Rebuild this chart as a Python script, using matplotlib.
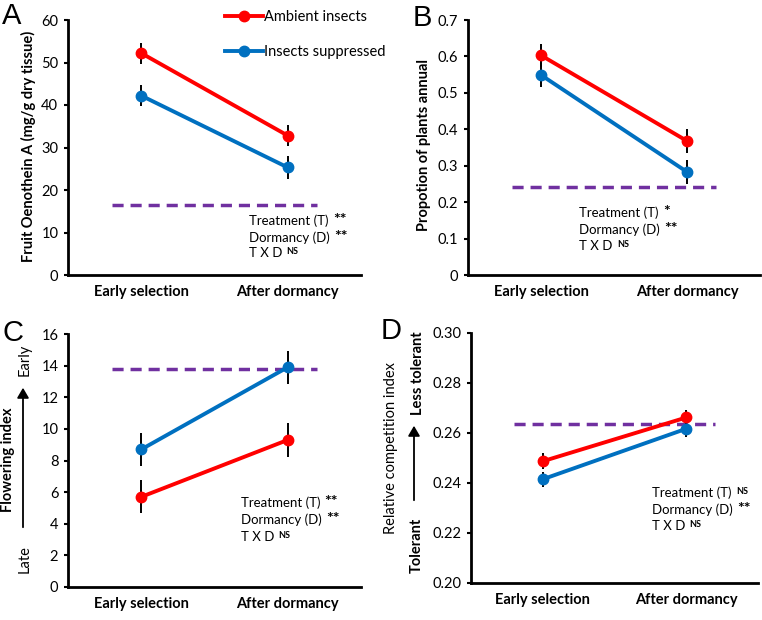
import matplotlib
matplotlib.use("Agg")
import matplotlib.pyplot as plt

plt.rcParams['font.family'] = ['Lato', 'DejaVu Sans']

# Data
stages = ["Early selection", "After dormancy"]
series_names = ["Ambient insects", "Insects suppressed"]

a_amb = [52.2, 32.8]
a_amb_err = [2.5, 2.5]
a_sup = [42.2, 25.3]
a_sup_err = [2.5, 2.6]
a_ref = 16.5

b_amb = [0.603, 0.368]
b_amb_err = [0.031, 0.032]
b_sup = [0.549, 0.283]
b_sup_err = [0.032, 0.032]
b_ref = 0.241

c_amb = [5.7, 9.3]
c_amb_err = [1.05, 1.05]
c_sup = [8.7, 13.9]
c_sup_err = [1.05, 1.05]
c_ref = 13.8

d_amb = [0.2487, 0.2662]
d_amb_err = [0.0033, 0.003]
d_sup = [0.2415, 0.2617]
d_sup_err = [0.003, 0.0035]
d_ref = 0.2636

a_stats = [("Treatment (T)", "**", ""), ("Dormancy (D)", "**", ""), ("T X D", "", "NS")]
b_stats = [("Treatment (T)", "*", ""), ("Dormancy (D)", "**", ""), ("T X D", "", "NS")]
c_stats = [("Treatment (T)", "**", ""), ("Dormancy (D)", "**", ""), ("T X D", "", "NS")]
d_stats = [("Treatment (T)", "", "NS"), ("Dormancy (D)", "**", ""), ("T X D", "", "NS")]

RED = "#FF0000"
BLUE = "#0070C0"
PURPLE = "#7030A0"

W, H = 762, 620
fig = plt.figure(figsize=(W / 100, H / 100), dpi=100)


def px_axes(left, top, right, bottom):
    return fig.add_axes([left / W, 1 - bottom / H, (right - left) / W, (bottom - top) / H])


def draw_panel(ax, amb, amb_err, sup, sup_err, ref, ylim, yticks, yfmt):
    x = [1, 2]
    ax.errorbar(x, amb, yerr=amb_err, fmt="none", ecolor="black", elinewidth=1.4, zorder=2)
    ax.errorbar(x, sup, yerr=sup_err, fmt="none", ecolor="black", elinewidth=1.4, zorder=2)
    l1, = ax.plot(x, amb, color=RED, lw=2.8, marker="o", ms=7.5, zorder=3, label=series_names[0])
    l2, = ax.plot(x, sup, color=BLUE, lw=2.8, marker="o", ms=7.5, zorder=3, label=series_names[1])
    ax.plot([0.8, 2.2], [ref, ref], color=PURPLE, lw=2.5, ls=(0, (3.2, 2.0)), zorder=1)
    ax.set_xlim(0.5, 2.5)
    ax.set_ylim(*ylim)
    ax.set_yticks(yticks)
    ax.set_yticklabels([yfmt.format(v) for v in yticks], fontsize=10.5)
    ax.set_xticks(x)
    ax.set_xticklabels(stages, fontsize=10.5, fontweight="bold")
    ax.tick_params(axis="x", length=0, pad=7)
    ax.tick_params(axis="y", length=3, width=1.5, pad=4)
    for s in ["top", "right"]:
        ax.spines[s].set_visible(False)
    for s in ["left", "bottom"]:
        ax.spines[s].set_linewidth(2)
    ax.patch.set_alpha(0)
    return l1, l2


def draw_stats(ax, x, ys, stats):
    for (label, mark, sup), y in zip(stats, ys):
        t = ax.text(x, y, label, transform=ax.transAxes, fontsize=9.5, va="center", ha="left")
        if mark:
            ax.annotate(mark, xy=(1, 0), xycoords=t, xytext=(3, 0), textcoords="offset points",
                        fontsize=11.5, fontweight="bold", va="bottom", ha="left")
        if sup:
            ax.annotate(sup, xy=(1, 1), xycoords=t, xytext=(3, 0), textcoords="offset points",
                        fontsize=6.5, fontweight="bold", va="top", ha="left")


# Panel A
axA = px_axes(68, 20, 361, 275)
lA = draw_panel(axA, a_amb, a_amb_err, a_sup, a_sup_err, a_ref, (0, 60), range(0, 61, 10), "{:d}")
draw_stats(axA, 0.618, [0.212, 0.145, 0.086], a_stats)
fig.text(28 / W, 1 - 146 / H, "Fruit Oenothein A (mg/g dry tissue)", rotation=90,
         ha="center", va="center", fontsize=10.5, fontweight="bold")
fig.legend(handles=list(lA), loc="upper left", bbox_to_anchor=(225 / W, 1 - 10 / H),
           frameon=False, fontsize=10.5, numpoints=1, handlelength=2.6, handletextpad=0.1,
           labelspacing=1.45, borderpad=0, borderaxespad=0)

# Panel B
axB = px_axes(468, 20, 760, 275)
draw_panel(axB, b_amb, b_amb_err, b_sup, b_sup_err, b_ref, (0, 0.7),
           [0, 0.1, 0.2, 0.3, 0.4, 0.5, 0.6, 0.7], "{:g}")
draw_stats(axB, 0.381, [0.243, 0.176, 0.114], b_stats)
fig.text(424 / W, 1 - 145 / H, "Propotion of plants annual", rotation=90,
         ha="center", va="center", fontsize=10.5, fontweight="bold")

# Panel C
axC = px_axes(68, 334, 361, 587)
draw_panel(axC, c_amb, c_amb_err, c_sup, c_sup_err, c_ref, (0, 16), range(0, 17, 2), "{:d}")
draw_stats(axC, 0.59, [0.332, 0.265, 0.198], c_stats)
fig.text(8 / W, 1 - 460 / H, "Flowering index", rotation=90,
         ha="center", va="center", fontsize=10.5, fontweight="bold")
fig.text(25 / W, 1 - 559 / H, "Late", rotation=90, ha="center", va="center", fontsize=10.5)
fig.text(25 / W, 1 - 360 / H, "Early", rotation=90, ha="center", va="center", fontsize=10.5)
fig.add_artist(matplotlib.patches.FancyArrowPatch(
    (23 / W, 1 - 530 / H), (23 / W, 1 - 385 / H), transform=fig.transFigure,
    arrowstyle="-|>,head_length=6,head_width=3.5", color="black", lw=1.3))

# Panel D
axD = px_axes(471, 333, 758, 583)
draw_panel(axD, d_amb, d_amb_err, d_sup, d_sup_err, d_ref, (0.20, 0.30),
           [0.20, 0.22, 0.24, 0.26, 0.28, 0.30], "{:.2f}")
draw_stats(axD, 0.631, [0.36, 0.292, 0.228], d_stats)
fig.text(391 / W, 1 - 448 / H, "Relative competition index", rotation=90,
         ha="center", va="center", fontsize=10.5)
fig.text(417 / W, 1 - 545 / H, "Tolerant", rotation=90, ha="center", va="center",
         fontsize=10.5, fontweight="bold")
fig.text(418 / W, 1 - 373 / H, "Less tolerant", rotation=90, ha="center", va="center",
         fontsize=10.5, fontweight="bold")
fig.add_artist(matplotlib.patches.FancyArrowPatch(
    (414 / W, 1 - 503 / H), (414 / W, 1 - 423 / H), transform=fig.transFigure,
    arrowstyle="-|>,head_length=6,head_width=3.5", color="black", lw=1.3))

# Panel letters
for letter, (lx, ly) in zip("ABCD", [(2, 2), (413, 4), (2, 319), (381, 317)]):
    fig.text(lx / W, 1 - ly / H, letter, ha="left", va="top", fontsize=21,
             family=["Liberation Sans", "DejaVu Sans"])

fig.savefig("out.png", dpi=100)
